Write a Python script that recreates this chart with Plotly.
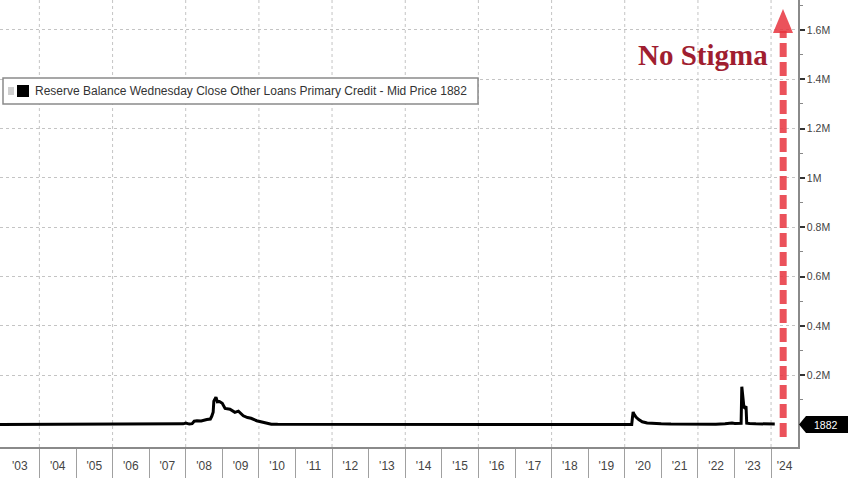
import plotly.graph_objects as go

# ---------------- data ($ millions) ----------------
dates = [
    "2002-12-04", "2003-06-04", "2004-01-07", "2004-07-07", "2005-01-05", "2005-07-20",
    "2005-08-03", "2005-08-17", "2006-01-04", "2006-01-18", "2006-02-01", "2006-04-05",
    "2006-04-19", "2007-01-03", "2007-08-08", "2007-08-29", "2007-09-12", "2007-12-05",
    "2008-01-02", "2008-02-06", "2008-03-05", "2008-03-26", "2008-04-23", "2008-06-04",
    "2008-07-30", "2008-09-03", "2008-09-17", "2008-09-24", "2008-10-01", "2008-10-08",
    "2008-10-22", "2008-10-29", "2008-11-12", "2008-12-03", "2008-12-31", "2009-01-28",
    "2009-03-18", "2009-05-06", "2009-06-10", "2009-07-29", "2009-09-09", "2009-10-14",
    "2009-12-09", "2010-02-10", "2010-03-31", "2010-05-05", "2010-07-07", "2011-06-01",
    "2013-01-02", "2015-01-07", "2017-01-04", "2019-01-02", "2019-12-04", "2020-03-11",
    "2020-03-18", "2020-03-25", "2020-04-01", "2020-04-22", "2020-05-20", "2020-06-24",
    "2020-08-12", "2020-10-07", "2020-12-30", "2021-04-07", "2021-07-07", "2021-12-29",
    "2022-03-30", "2022-06-29", "2022-09-28", "2022-11-02", "2022-12-07", "2023-01-04",
    "2023-02-08", "2023-03-08", "2023-03-15", "2023-03-22", "2023-03-29", "2023-04-05",
    "2023-04-12", "2023-04-19", "2023-04-26", "2023-05-03", "2023-05-31", "2023-08-02",
    "2023-11-01", "2024-01-03", "2024-02-07",
]
values = [
    50, 150, 100, 200, 150, 300,
    2500, 200, 150, 2000, 150, 2000,
    150, 200, 300, 2000, 1000, 2500,
    6000, 1500, 3000, 13000, 15000, 14000,
    20000, 22000, 33000, 39000, 49500, 94000,
    103000, 111000, 92000, 93000, 86000, 65000,
    62000, 49000, 54000, 35000, 28000, 25000,
    15000, 9000, 4000, 1000, 300, 100,
    50, 100, 80, 50, 100, 200,
    28000, 50800, 43000, 30000, 20000, 11000,
    6000, 4000, 2500, 1500, 800, 500,
    700, 1000, 3000, 5000, 5500, 4000,
    5000, 4600, 152900, 110200, 88200, 69700,
    67600, 69900, 73800, 5300, 3500, 2500,
    2300, 2100, 1882,
]
series_name = "Reserve Balance Wednesday Close Other Loans Primary Credit - Mid Price"
last_value = 1882

y_tick_vals = [200000, 400000, 600000, 800000, 1000000, 1200000, 1400000, 1600000]
y_tick_text = ["0.2M", "0.4M", "0.6M", "0.8M", "1M", "1.2M", "1.4M", "1.6M"]
y_minor_vals = [100000, 300000, 500000, 700000, 900000, 1100000, 1300000, 1500000, 1700000]

x_label_pos = ["2003-06-19"] + [f"{y}-07-02" for y in range(2004, 2024)] + ["2024-05-14"]
x_label_text = ["'03", "'04", "'05", "'06", "'07", "'08", "'09", "'10", "'11", "'12", "'13",
                "'14", "'15", "'16", "'17", "'18", "'19", "'20", "'21", "'22", "'23", "'24"]
year_bounds = [f"{y}-01-01" for y in range(2004, 2025)]
grid_years = [f"{y}-01-01" for y in range(2004, 2025, 2)]

arrow_date = "2024-05-01"

# ---------------- layout helpers (pixel -> paper) ----------------
W, H = 848, 478
PL, PR, PT, PB = 0, 798, 0, 447


def px(x):
    return (x - PL) / (PR - PL)


def py(y):
    return 1 - (y - PT) / (PB - PT)


fig = go.Figure()
fig.add_trace(go.Scatter(
    x=dates, y=values, mode="lines", name=series_name,
    line=dict(color="#000000", width=3), showlegend=False,
))

shapes = []
# vertical dotted gridlines every 2 years
for g in grid_years:
    shapes.append(dict(type="line", xref="x", yref="paper", x0=g, x1=g, y0=0, y1=1,
                       line=dict(color="#c4c4c4", width=1, dash="dot"), layer="below"))

# red dashed arrow shaft
shapes.append(dict(type="line", xref="x", yref="paper", x0=arrow_date, x1=arrow_date,
                   y0=py(437), y1=py(31),
                   line=dict(color="rgba(232,52,62,0.85)", width=7, dash="14px,5px")))
# arrow head
shapes.append(dict(type="path", xref="paper", yref="paper",
                   path=f"M {px(773)},{py(33)} L {px(783)},{py(9)} L {px(793)},{py(33)} Z",
                   fillcolor="rgba(232,52,62,0.85)", line=dict(width=0)))

# legend box
x0, x1, y0, y1 = 3, 478, 78, 104
shapes.append(dict(type="rect", xref="paper", yref="paper",
                   x0=px(x0), x1=px(x1), y0=py(y1), y1=py(y0),
                   fillcolor="white", line=dict(color="#8a8a8a", width=1.5)))
shapes.append(dict(type="rect", xref="paper", yref="paper",
                   x0=px(8), x1=px(14), y0=py(95), y1=py(87),
                   fillcolor="#cfcfcf", line=dict(width=0)))
shapes.append(dict(type="rect", xref="paper", yref="paper",
                   x0=px(17), x1=px(29), y0=py(97), y1=py(85),
                   fillcolor="#000000", line=dict(width=0)))

# last-value tag
shapes.append(dict(type="path", xref="paper", yref="paper",
                   path=(f"M {px(799)},{py(424.5)} L {px(806)},{py(416)} L {px(848)},{py(416)} "
                         f"L {px(848)},{py(433)} L {px(806)},{py(433)} Z"),
                   fillcolor="#000000", line=dict(width=0)))

annotations = [
    dict(xref="paper", yref="paper", x=px(33), y=py(91), xanchor="left", yanchor="middle",
         text=f"{series_name} {last_value}", showarrow=False,
         font=dict(family="Liberation Sans, Arial, sans-serif", size=12, color="#333333")),
    dict(xref="paper", yref="paper", x=px(826), y=py(424.5), xanchor="center", yanchor="middle",
         text=f"{last_value}", showarrow=False,
         font=dict(family="Liberation Sans, Arial, sans-serif", size=10.5, color="#ffffff")),
    dict(xref="paper", yref="paper", x=px(703), y=py(55), xanchor="center", yanchor="middle",
         text="<b>No Stigma</b>", showarrow=False,
         font=dict(family="Liberation Serif, Times New Roman, serif", size=29, color="#a01e30")),
]

fig.update_layout(
    width=W, height=H, autosize=False,
    margin=dict(l=PL, r=W - PR, t=PT, b=H - PB, pad=0),
    paper_bgcolor="white", plot_bgcolor="white",
    shapes=shapes, annotations=annotations,
    xaxis=dict(
        type="date", range=["2002-12-04", "2024-09-26"],
        tickmode="array", tickvals=x_label_pos, ticktext=x_label_text,
        ticks="", ticklabelstandoff=7, showgrid=False,
        showline=True, linecolor="#8a8a8a", linewidth=1.5,
        tickfont=dict(family="Liberation Sans, Arial, sans-serif", size=12, color="#444444"),
        minor=dict(tickmode="array", tickvals=year_bounds, ticks="outside", ticklen=31,
                   tickcolor="#a0a0a0", tickwidth=1, showgrid=False),
        zeroline=False,
    ),
    yaxis=dict(
        side="right", range=[-91500, 1721500],
        tickmode="array", tickvals=y_tick_vals, ticktext=y_tick_text,
        ticks="outside", ticklen=5, tickwidth=2, tickcolor="#333333",
        showgrid=True, gridcolor="#c4c4c4", griddash="dot", gridwidth=1,
        showline=True, linecolor="#8a8a8a", linewidth=1.5,
        tickfont=dict(family="Liberation Sans, Arial, sans-serif", size=10.5, color="#444444"),
        minor=dict(tickmode="array", tickvals=y_minor_vals, ticks="outside", ticklen=3,
                   tickcolor="#888888", tickwidth=1, showgrid=False),
        zeroline=False,
    ),
)

fig.write_html(
    "out.html",
    config={"displayModeBar": False},
    post_script="document.body.style.margin='0';document.body.style.padding='0';"
                "document.body.style.overflow='hidden';",
)
